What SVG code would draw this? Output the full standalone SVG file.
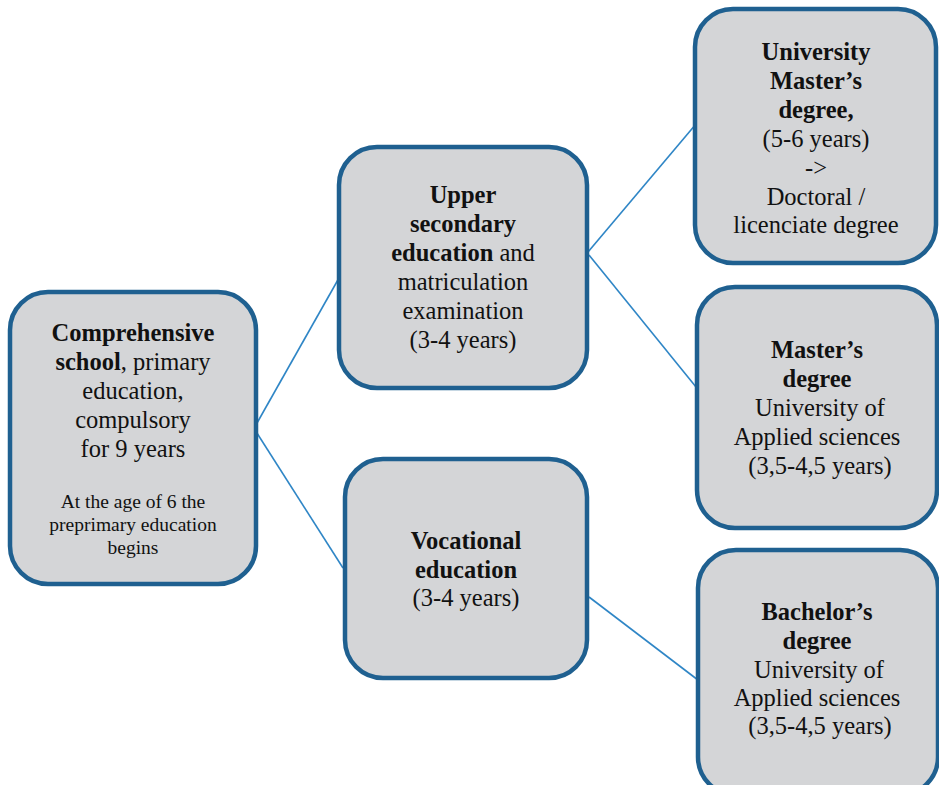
<svg xmlns="http://www.w3.org/2000/svg" width="939" height="785" viewBox="0 0 939 785">
  <style>
    .box { fill: #d4d5d7; stroke: #1f6090; stroke-width: 4.5; }
    .link { stroke: #2f86c6; stroke-width: 1.6; fill: none; }
    text { font-family: "Liberation Serif", "Times New Roman", serif; font-size: 24.5px; fill: #111; text-anchor: middle; }
    .b { font-weight: bold; }
    .small { font-size: 19.5px; }
  </style>
  <rect width="939" height="785" fill="#ffffff"/>

  <!-- connectors -->
  <g id="connectors">
    <line class="link" x1="257" y1="423" x2="339" y2="278"/>
    <line class="link" x1="255" y1="430" x2="343" y2="568"/>
    <line class="link" x1="588" y1="252" x2="696" y2="124"/>
    <line class="link" x1="589" y1="255" x2="696" y2="387"/>
    <line class="link" x1="589" y1="597" x2="698" y2="680"/>
  </g>

  <!-- comprehensive school -->
  <g id="comprehensive">
    <rect class="box" x="10" y="292" width="246" height="292" rx="38"/>
    <text x="133" y="341"><tspan class="b">Comprehensive</tspan></text>
    <text x="133" y="370"><tspan class="b">school</tspan>, primary</text>
    <text x="133" y="399">education,</text>
    <text x="133" y="428">compulsory</text>
    <text x="133" y="457">for 9 years</text>
    <text class="small" x="133" y="508">At the age of 6 the</text>
    <text class="small" x="133" y="531">preprimary education</text>
    <text class="small" x="133" y="554">begins</text>
  </g>

  <!-- upper secondary -->
  <g id="upper-secondary">
    <rect class="box" x="339" y="147" width="248" height="241" rx="38"/>
    <text x="463" y="203" class="b">Upper</text>
    <text x="463" y="232" class="b">secondary</text>
    <text x="463" y="261"><tspan class="b">education</tspan> and</text>
    <text x="463" y="290">matriculation</text>
    <text x="463" y="319">examination</text>
    <text x="463" y="348">(3-4 years)</text>
  </g>

  <!-- vocational -->
  <g id="vocational">
    <rect class="box" x="345" y="459" width="242" height="219" rx="38"/>
    <text x="466" y="549" class="b">Vocational</text>
    <text x="466" y="578" class="b">education</text>
    <text x="466" y="606">(3-4 years)</text>
  </g>

  <!-- university master's -->
  <g id="university-masters">
    <rect class="box" x="695" y="9" width="241" height="254" rx="38"/>
    <text x="816" y="60" class="b">University</text>
    <text x="816" y="89" class="b">Master’s</text>
    <text x="816" y="118" class="b">degree,</text>
    <text x="816" y="147">(5-6 years)</text>
    <text x="816" y="176">-&gt;</text>
    <text x="816" y="205">Doctoral /</text>
    <text x="816" y="233">licenciate degree</text>
  </g>

  <!-- applied sciences master's -->
  <g id="uas-masters">
    <rect class="box" x="697" y="287" width="240" height="241" rx="38"/>
    <text x="817" y="358" class="b">Master’s</text>
    <text x="817" y="387" class="b">degree</text>
    <text x="820" y="416">University of</text>
    <text x="817" y="445">Applied sciences</text>
    <text x="820" y="474">(3,5-4,5 years)</text>
  </g>

  <!-- bachelor's -->
  <g id="bachelors">
    <rect class="box" x="698" y="550" width="240" height="245" rx="38"/>
    <text x="817" y="620" class="b">Bachelor’s</text>
    <text x="817" y="649" class="b">degree</text>
    <text x="819" y="678">University of</text>
    <text x="817" y="706">Applied sciences</text>
    <text x="820" y="734">(3,5-4,5 years)</text>
  </g>
</svg>
